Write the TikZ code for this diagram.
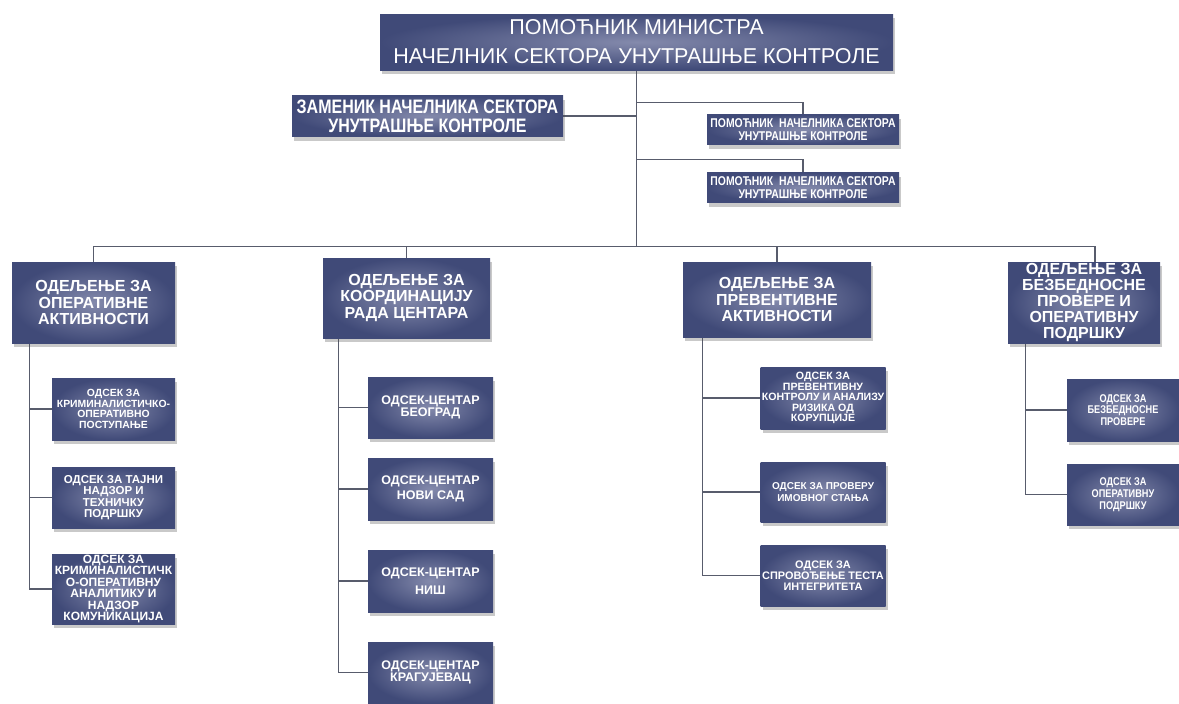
\documentclass[tikz,border=0pt]{standalone}
\usepackage{fontspec}
\setmainfont{Liberation Sans}
\newfontfamily\cnd[FakeStretch=0.82]{Liberation Sans}
\usetikzlibrary{shadows,backgrounds}
\definecolor{boxout}{RGB}{64,74,120}
\definecolor{boxin}{RGB}{132,138,172}
\definecolor{linec}{RGB}{88,92,108}
\tikzset{
  orgbox/.style={inner color=boxin, outer color=boxout, text=white, align=center,
    inner sep=0pt, drop shadow={shadow xshift=2pt, shadow yshift=-4pt, opacity=0.3, fill=black!70}},
  link/.style={draw=linec, line width=1.3pt},
  fz/.style n args={2}{font=\fontsize{#1}{#2}\selectfont\bfseries},
  cz/.style n args={2}{font=\cnd\fontsize{#1}{#2}\selectfont\bfseries}
}
\begin{document}
\begin{tikzpicture}[x=1pt,y=-1pt]
\useasboundingbox (0,0) rectangle (1179,704);
% top
\node[orgbox, minimum width=513pt, minimum height=56pt, font=\fontsize{21.5}{29}\selectfont]
  (top) at (636.5,42) {ПОМОЋНИК МИНИСТРА\\НАЧЕЛНИК СЕКТОРА УНУТРАШЊЕ КОНТРОЛЕ};
\node[orgbox, minimum width=271pt, minimum height=41pt, cz={19.5}{19}]
  (zam) at (427.5,116) {ЗАМЕНИК НАЧЕЛНИКА СЕКТОРА\\УНУТРАШЊЕ КОНТРОЛЕ};
\node[orgbox, minimum width=192pt, minimum height=30pt, cz={12.7}{12.5}]
  (pom1) at (803,129.5) {ПОМОЋНИК\ \ НАЧЕЛНИКА СЕКТОРА\\УНУТРАШЊЕ КОНТРОЛЕ};
\node[orgbox, minimum width=192pt, minimum height=30pt, cz={12.7}{12.5}]
  (pom2) at (803,187.5) {ПОМОЋНИК\ \ НАЧЕЛНИКА СЕКТОРА\\УНУТРАШЊЕ КОНТРОЛЕ};
% departments
\node[orgbox, minimum width=163pt, minimum height=81pt, fz={16}{16.5}]
  (d1) at (93.5,302.5) {ОДЕЉЕЊЕ ЗА\\ОПЕРАТИВНЕ\\АКТИВНОСТИ};
\node[orgbox, minimum width=167pt, minimum height=80pt, fz={16}{16.5}]
  (d2) at (406.5,298) {ОДЕЉЕЊЕ ЗА\\КООРДИНАЦИЈУ\\РАДА ЦЕНТАРА};
\node[orgbox, minimum width=188pt, minimum height=75pt, fz={16}{16.5}]
  (d3) at (777,299.5) {ОДЕЉЕЊЕ ЗА\\ПРЕВЕНТИВНЕ\\АКТИВНОСТИ};
\node[orgbox, minimum width=152pt, minimum height=81pt, fz={16}{16}]
  (d4) at (1084,302.5) {ОДЕЉЕЊЕ ЗА\\БЕЗБЕДНОСНЕ\\ПРОВЕРЕ И\\ОПЕРАТИВНУ\\ПОДРШКУ};
% D1 subs
\node[orgbox, minimum width=123pt, minimum height=62pt, fz={10.4}{10.5}]
  (s11) at (113.5,409) {ОДСЕК ЗА\\КРИМИНАЛИСТИЧКО-\\ОПЕРАТИВНО\\ПОСТУПАЊЕ};
\node[orgbox, minimum width=123pt, minimum height=61pt, fz={11.5}{11.5}]
  (s12) at (113.5,497.5) {ОДСЕК ЗА ТАЈНИ\\НАДЗОР И\\ТЕХНИЧКУ\\ПОДРШКУ};
\node[orgbox, minimum width=123pt, minimum height=70pt, fz={12}{11.5}]
  (s13) at (113.5,589) {ОДСЕК ЗА\\КРИМИНАЛИСТИЧК\\О-ОПЕРАТИВНУ\\АНАЛИТИКУ И\\НАДЗОР\\КОМУНИКАЦИЈА};
% D2 subs
\node[orgbox, minimum width=125pt, minimum height=61pt, fz={12.5}{12.5}]
  (s21) at (430.5,407.5) {ОДСЕК-ЦЕНТАР\\БЕОГРАД};
\node[orgbox, minimum width=125pt, minimum height=62pt, fz={12.5}{15}]
  (s22) at (430.5,489) {ОДСЕК-ЦЕНТАР\\НОВИ САД};
\node[orgbox, minimum width=125pt, minimum height=62pt, fz={12.5}{18}]
  (s23) at (430.5,581) {ОДСЕК-ЦЕНТАР\\НИШ};
\node[orgbox, minimum width=125pt, minimum height=61pt, fz={12.5}{12.5}]
  (s24) at (430.5,672.5) {ОДСЕК-ЦЕНТАР\\КРАГУЈЕВАЦ};
% D3 subs
\node[orgbox, minimum width=125pt, minimum height=62pt, fz={10.6}{10.6}]
  (s31) at (823,398) {ОДСЕК ЗА\\ПРЕВЕНТИВНУ\\КОНТРОЛУ И АНАЛИЗУ\\РИЗИКА ОД\\КОРУПЦИЈЕ};
\node[orgbox, minimum width=125pt, minimum height=60pt, fz={10}{11.5}]
  (s32) at (823,492) {ОДСЕК ЗА ПРОВЕРУ\\ИМОВНОГ СТАЊА};
\node[orgbox, minimum width=125pt, minimum height=61pt, fz={10.9}{11}]
  (s33) at (823,575.5) {ОДСЕК ЗА\\СПРОВОЂЕЊЕ ТЕСТА\\ИНТЕГРИТЕТА};
% D4 subs
\node[orgbox, minimum width=112pt, minimum height=62pt, cz={11.2}{11.8}]
  (s41) at (1123,410) {ОДСЕК ЗА\\БЕЗБЕДНОСНЕ\\ПРОВЕРЕ};
\node[orgbox, minimum width=112pt, minimum height=61pt, cz={11.2}{11.8}]
  (s42) at (1123,494.5) {ОДСЕК ЗА\\ОПЕРАТИВНУ\\ПОДРШКУ};
% connectors (behind the boxes)
\begin{scope}[on background layer]
\draw[link] (top.south) -- ([yshift=15pt]top.south |- d1.north);
\draw[link] (zam.east) -- (zam.east -| top.south);
\draw[link] ([yshift=12pt]top.south |- pom1.north) -| (pom1.north);
\draw[link] ([yshift=13pt]top.south |- pom2.north) -| (pom2.north);
\draw[link] (d1.north) -- ++(0,-15) -| ([xshift=11pt]d4.north);
\draw[link] (d2.north) -- ++(0,-11);
\draw[link] (d3.north) -- ++(0,-15);
\draw[link] ([xshift=18pt]d1.south west) |- (s13.west);
\draw[link] (s11.west) -- ++(-22,0);
\draw[link] (s12.west) -- ++(-22,0);
\draw[link] ([xshift=16pt]d2.south west) |- (s24.west);
\draw[link] (s21.west) -- ++(-29,0);
\draw[link] (s22.west) -- ++(-29,0);
\draw[link] (s23.west) -- ++(-29,0);
\draw[link] ([xshift=20pt]d3.south west) |- (s33.west);
\draw[link] (s31.west) -- ++(-57,0);
\draw[link] (s32.west) -- ++(-57,0);
\draw[link] ([xshift=18pt]d4.south west) |- (s42.west);
\draw[link] (s41.west) -- ++(-41,0);
\end{scope}
\end{tikzpicture}
\end{document}
